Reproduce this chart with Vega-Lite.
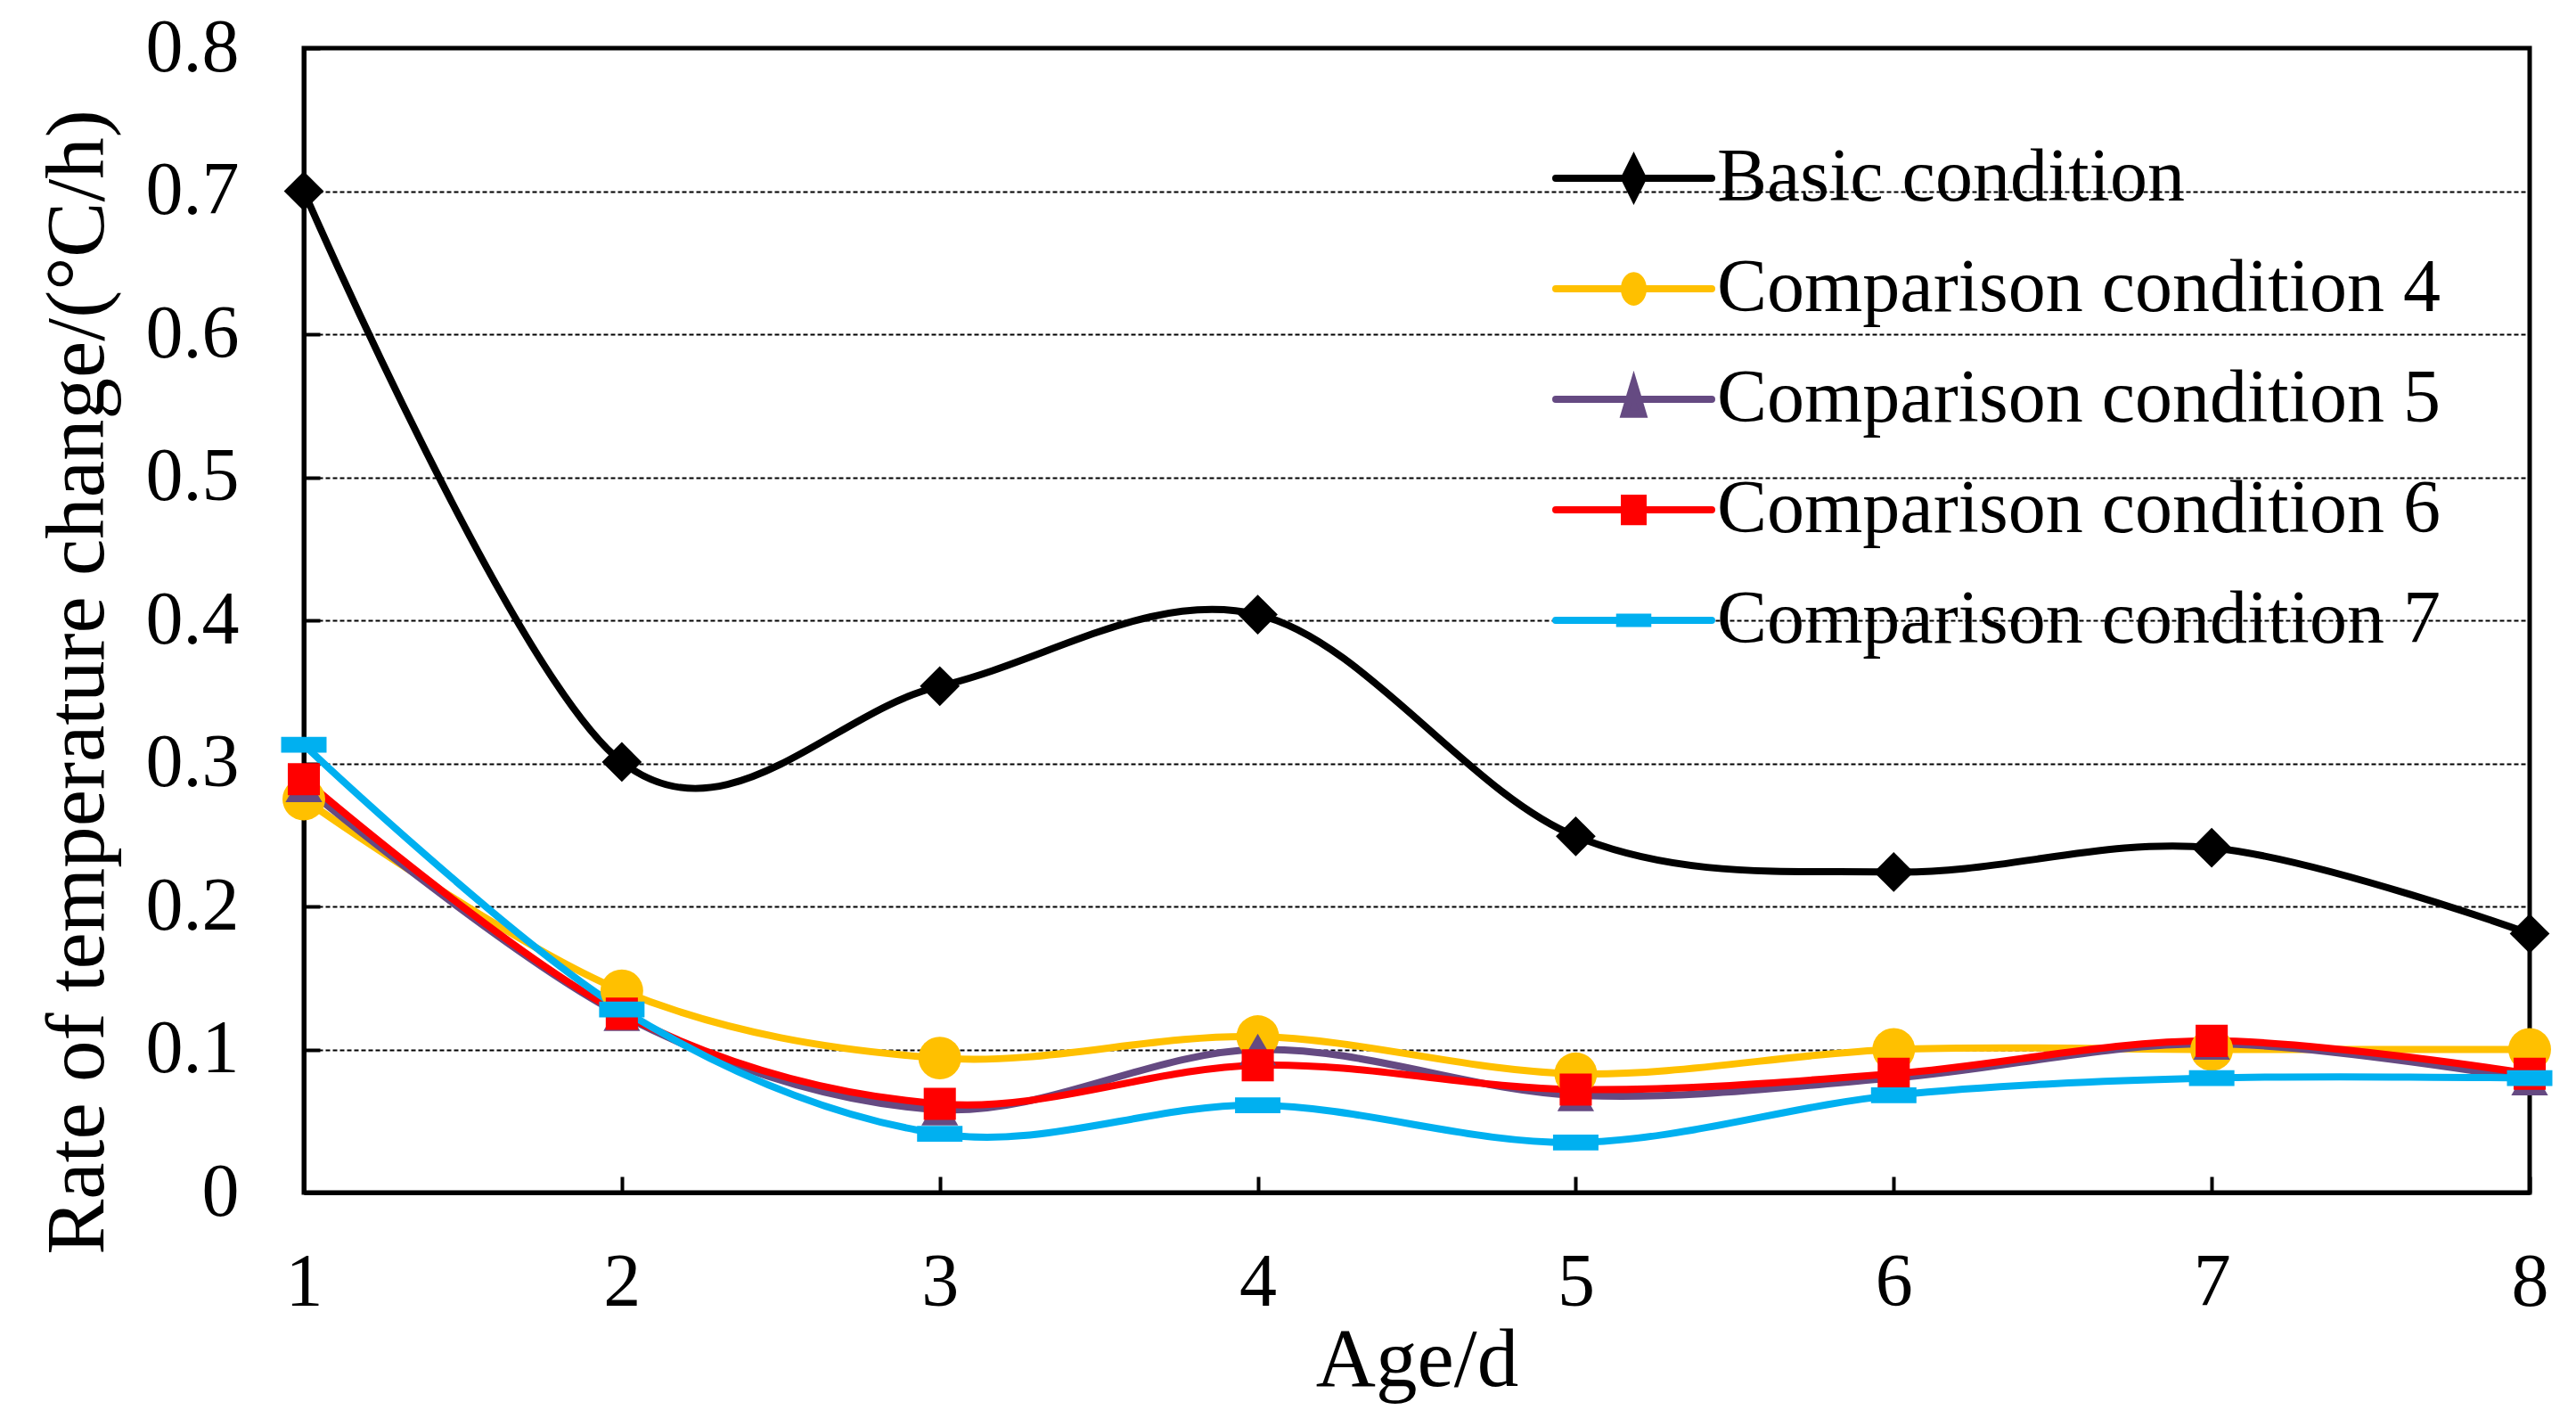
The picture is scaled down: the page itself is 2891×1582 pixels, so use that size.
{
  "$schema": "https://vega.github.io/schema/vega-lite/v6.json",
  "width": 2498,
  "height": 1284,
  "autosize": {"type": "none"},
  "padding": {"left": 341, "top": 54, "right": 52, "bottom": 244},
  "background": "white",
  "config": {
    "view": {"stroke": "black", "strokeWidth": 5},
    "font": "Liberation Serif"
  },
  "data": {
    "values": [
      {"series": "Basic condition", "age": 1, "rate": 0.700},
      {"series": "Basic condition", "age": 2, "rate": 0.301},
      {"series": "Basic condition", "age": 3, "rate": 0.354},
      {"series": "Basic condition", "age": 4, "rate": 0.404},
      {"series": "Basic condition", "age": 5, "rate": 0.249},
      {"series": "Basic condition", "age": 6, "rate": 0.224},
      {"series": "Basic condition", "age": 7, "rate": 0.241},
      {"series": "Basic condition", "age": 8, "rate": 0.181},
      {"series": "Comparison condition 4", "age": 1, "rate": 0.275},
      {"series": "Comparison condition 4", "age": 2, "rate": 0.141},
      {"series": "Comparison condition 4", "age": 3, "rate": 0.094},
      {"series": "Comparison condition 4", "age": 4, "rate": 0.109},
      {"series": "Comparison condition 4", "age": 5, "rate": 0.083},
      {"series": "Comparison condition 4", "age": 6, "rate": 0.100},
      {"series": "Comparison condition 4", "age": 7, "rate": 0.100},
      {"series": "Comparison condition 4", "age": 8, "rate": 0.100},
      {"series": "Comparison condition 5", "age": 1, "rate": 0.284},
      {"series": "Comparison condition 5", "age": 2, "rate": 0.124},
      {"series": "Comparison condition 5", "age": 3, "rate": 0.058},
      {"series": "Comparison condition 5", "age": 4, "rate": 0.100},
      {"series": "Comparison condition 5", "age": 5, "rate": 0.068},
      {"series": "Comparison condition 5", "age": 6, "rate": 0.080},
      {"series": "Comparison condition 5", "age": 7, "rate": 0.104},
      {"series": "Comparison condition 5", "age": 8, "rate": 0.079},
      {"series": "Comparison condition 6", "age": 1, "rate": 0.289},
      {"series": "Comparison condition 6", "age": 2, "rate": 0.125},
      {"series": "Comparison condition 6", "age": 3, "rate": 0.062},
      {"series": "Comparison condition 6", "age": 4, "rate": 0.089},
      {"series": "Comparison condition 6", "age": 5, "rate": 0.072},
      {"series": "Comparison condition 6", "age": 6, "rate": 0.083},
      {"series": "Comparison condition 6", "age": 7, "rate": 0.106},
      {"series": "Comparison condition 6", "age": 8, "rate": 0.083},
      {"series": "Comparison condition 7", "age": 1, "rate": 0.313},
      {"series": "Comparison condition 7", "age": 2, "rate": 0.128},
      {"series": "Comparison condition 7", "age": 3, "rate": 0.041},
      {"series": "Comparison condition 7", "age": 4, "rate": 0.061},
      {"series": "Comparison condition 7", "age": 5, "rate": 0.035},
      {"series": "Comparison condition 7", "age": 6, "rate": 0.068},
      {"series": "Comparison condition 7", "age": 7, "rate": 0.080},
      {"series": "Comparison condition 7", "age": 8, "rate": 0.080}
    ]
  },
  "encoding": {
    "x": {
      "field": "age", "type": "quantitative",
      "scale": {"domain": [1, 8], "nice": false},
      "axis": {
        "values": [1, 2, 3, 4, 5, 6, 7, 8],
        "format": "d",
        "grid": false,
        "labelFlush": false,
        "domainColor": "black", "domainWidth": 5,
        "tickColor": "black", "tickWidth": 4, "tickSize": -18,
        "labelFontSize": 84, "labelColor": "black", "labelPadding": 78,
        "title": "Age/d", "titleFontSize": 93, "titleFontWeight": "normal", "titleColor": "black",
        "titlePadding": 0
      }
    },
    "y": {
      "field": "rate", "type": "quantitative",
      "scale": {"domain": [0, 0.8], "nice": false},
      "axis": {
        "values": [0, 0.1, 0.2, 0.3, 0.4, 0.5, 0.6, 0.7, 0.8],
        "format": ".1~f",
        "labelFlush": false,
        "grid": true, "gridColor": "black", "gridDash": [5, 3], "gridWidth": 2, "gridOpacity": 1,
        "domainColor": "black", "domainWidth": 5,
        "tickColor": "black", "tickWidth": 4, "tickSize": -18,
        "labelFontSize": 84, "labelColor": "black", "labelPadding": 91,
        "title": "Rate of temperature change/(°C/h)", "titleFontSize": 93, "titleFontWeight": "normal", "titleColor": "black",
        "titleX": -254, "titleY": 711, "titleBaseline": "middle", "titleAlign": "center"
      }
    },
    "color": {
      "field": "series", "type": "nominal",
      "scale": {
        "domain": ["Basic condition", "Comparison condition 4", "Comparison condition 5", "Comparison condition 6", "Comparison condition 7"],
        "range": ["#000000", "#FFC000", "#654A82", "#FF0000", "#00B0F0"]
      },
      "legend": {
        "title": null,
        "orient": "none",
        "legendX": 1401,
        "legendY": 84,
        "labelFontSize": 84,
        "labelColor": "black",
        "labelLimit": 3000,
        "labelOffset": 2,
        "symbolSize": 30625,
        "symbolStrokeWidth": 8,
        "clipHeight": 124,
        "rowPadding": 0,
        "encode": {
          "symbols": {
            "update": {
              "shape": {"signal": "datum.value === 'Basic condition' ? 'M-1,0L1,0M0,-0.24L0.12,0L0,0.24L-0.12,0Z' : datum.value === 'Comparison condition 4' ? 'M-1,0L1,0M0.12,0A0.12,0.17 0 1 1 -0.12,0A0.12,0.17 0 1 1 0.12,0Z' : datum.value === 'Comparison condition 5' ? 'M-1,0L1,0M0,-0.21L0.12,0.19L-0.12,0.19Z' : datum.value === 'Comparison condition 6' ? 'M-1,0L1,0M-0.12,-0.15L0.12,-0.15L0.12,0.15L-0.12,0.15Z' : 'M-1,0L1,0M-0.18,-0.04L0.18,-0.04L0.18,0.04L-0.18,0.04Z'"},
              "fill": {"scale": "color", "field": "value"},
              "stroke": {"scale": "color", "field": "value"},
              "strokeWidth": {"value": 8},
              "strokeCap": {"value": "round"},
              "size": {"value": 30625},
              "opacity": {"value": 1},
              "fillOpacity": {"value": 1},
              "strokeOpacity": {"value": 1}
            }
          }
        }
      }
    }
  },
  "layer": [
    {
      "mark": {"type": "line", "interpolate": "cardinal", "tension": 0, "strokeWidth": 8, "strokeCap": "round"}
    },
    {
      "transform": [{"filter": "datum.series === 'Basic condition'"}],
      "mark": {"type": "point", "shape": "diamond", "size": 2000, "filled": true, "opacity": 1}
    },
    {
      "transform": [{"filter": "datum.series === 'Comparison condition 4'"}],
      "mark": {"type": "point", "shape": "circle", "size": 2300, "filled": true, "opacity": 1}
    },
    {
      "transform": [{"filter": "datum.series === 'Comparison condition 5'"}],
      "mark": {"type": "point", "shape": "triangle-up", "size": 1700, "filled": true, "opacity": 1}
    },
    {
      "transform": [{"filter": "datum.series === 'Comparison condition 6'"}],
      "mark": {"type": "point", "shape": "square", "size": 1300, "filled": true, "opacity": 1}
    },
    {
      "transform": [{"filter": "datum.series === 'Comparison condition 7'"}],
      "mark": {"type": "point", "shape": "M-1,-0.35L1,-0.35L1,0.35L-1,0.35Z", "size": 2600, "filled": true, "opacity": 1}
    }
  ]
}
